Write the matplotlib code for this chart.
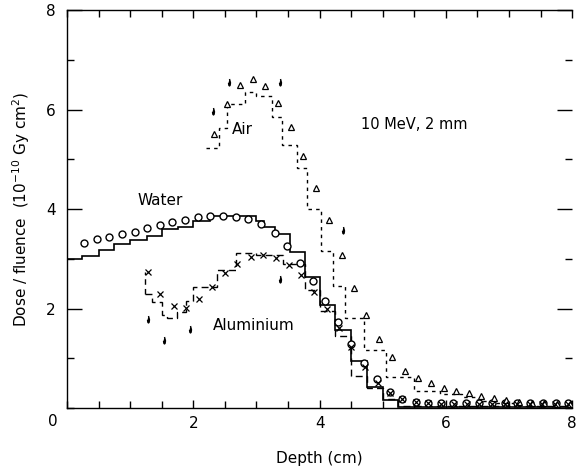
import numpy as np
import matplotlib
matplotlib.use('Agg')
import matplotlib.pyplot as plt
from matplotlib.ticker import MultipleLocator

# Water: open circles + solid histogram
water_x = [0.27, 0.47, 0.67, 0.87, 1.07, 1.27, 1.47, 1.67, 1.87, 2.07, 2.27, 2.47, 2.67,
           2.87, 3.08, 3.29, 3.49, 3.69, 3.89, 4.09, 4.29, 4.50, 4.71, 4.91, 5.11, 5.31,
           5.52, 5.72, 5.93, 6.12, 6.32, 6.53, 6.73, 6.93, 7.13, 7.34, 7.54, 7.74, 7.93]
water_y = [3.31, 3.39, 3.44, 3.50, 3.54, 3.62, 3.68, 3.73, 3.78, 3.83, 3.86, 3.86, 3.83,
           3.80, 3.70, 3.51, 3.26, 2.92, 2.56, 2.15, 1.73, 1.29, 0.90, 0.58, 0.33, 0.19,
           0.13, 0.11, 0.10, 0.10, 0.10, 0.10, 0.10, 0.10, 0.10, 0.10, 0.10, 0.10, 0.10]
water_edges = [0, 0.23, 0.50, 0.74, 1.00, 1.27, 1.50, 1.76, 2.00, 2.27, 3.00, 3.12, 3.30,
               3.53, 3.77, 4.00, 4.25, 4.50, 4.75, 5.00, 5.25, 8.0]
water_hist = [2.99, 3.06, 3.18, 3.29, 3.38, 3.46, 3.59, 3.64, 3.76, 3.85, 3.75, 3.64,
              3.49, 3.13, 2.63, 2.07, 1.57, 0.95, 0.43, 0.16, 0.03]

# Air: triangles + dotted histogram
air_x = [2.33, 2.54, 2.74, 2.94, 3.14, 3.34, 3.54, 3.74, 3.94, 4.15, 4.35, 4.55, 4.74,
         4.94, 5.15, 5.35, 5.56, 5.76, 5.97, 6.16, 6.36, 6.56, 6.76, 6.96, 7.16, 7.36,
         7.56, 7.76, 7.96]
air_y = [5.50, 6.11, 6.49, 6.61, 6.47, 6.13, 5.65, 5.06, 4.42, 3.78, 3.07, 2.41, 1.87,
         1.39, 1.02, 0.75, 0.60, 0.50, 0.40, 0.34, 0.30, 0.24, 0.21, 0.16, 0.13, 0.11,
         0.10, 0.09, 0.08]
air_edges = [2.20, 2.40, 2.53, 2.82, 3.00, 3.24, 3.40, 3.64, 3.80, 4.03, 4.21, 4.40,
             4.70, 5.05, 5.50, 5.90, 6.25, 6.50, 6.80, 7.10]
air_hist = [5.23, 5.63, 6.12, 6.36, 6.28, 5.85, 5.29, 4.82, 4.01, 3.16, 2.45, 1.80,
            1.17, 0.62, 0.35, 0.28, 0.23, 0.15, 0.10]
air_tick_x = [2.31, 2.57, 3.37, 4.37]
air_tick_y = [5.96, 6.56, 6.55, 3.58]

# Aluminium: crosses + dashed histogram
al_x = [1.28, 1.48, 1.69, 1.89, 2.09, 2.30, 2.50, 2.70, 2.91, 3.11, 3.31, 3.52, 3.71,
        3.91, 4.11, 4.31, 4.50, 4.72, 4.92, 5.11, 5.31, 5.52, 5.72, 5.93, 6.13, 6.33,
        6.53, 6.73, 6.93, 7.13, 7.33, 7.53, 7.73, 7.93]
al_y = [2.74, 2.29, 2.05, 2.02, 2.20, 2.44, 2.71, 2.90, 3.03, 3.08, 3.01, 2.87, 2.67,
        2.34, 2.00, 1.60, 1.23, 0.83, 0.50, 0.31, 0.18, 0.13, 0.10, 0.09, 0.09, 0.09,
        0.09, 0.09, 0.09, 0.09, 0.09, 0.09, 0.09, 0.09]
al_edges = [1.23, 1.34, 1.50, 1.58, 1.74, 1.89, 2.00, 2.37, 2.68, 3.00, 3.42, 3.77,
            4.00, 4.25, 4.50, 4.75, 5.00, 5.25, 8.0]
al_hist = [2.30, 2.14, 1.87, 1.80, 1.92, 2.16, 2.44, 2.77, 3.11, 3.08, 2.89, 2.37,
           1.95, 1.45, 0.64, 0.40, 0.18, 0.05]
al_tick_x = [1.29, 1.53, 1.95, 3.37]
al_tick_y = [1.78, 1.37, 1.58, 2.59]

plt.rcParams['font.family'] = 'DejaVu Sans'
fig = plt.figure(figsize=(5.76, 4.70), dpi=100, facecolor='white')
ax = fig.add_axes([0.1163, 0.1319, 0.877, 0.8468])

# histograms
ax.stairs(water_hist, water_edges, baseline=None, color='black', lw=1.2)
ax.stairs(air_hist, air_edges, baseline=None, color='black', lw=1.0, ls=(0, (2.5, 3)))
ax.stairs(al_hist, al_edges, baseline=None, color='black', lw=1.0, ls=(0, (5, 3)))
ax.vlines(al_edges[0], al_hist[0], al_y[0], color='black', lw=1.0, ls=(0, (4, 3)))

# measured points
drop = [(0, 1), (0.28, -0.1), (0.18, -0.8), (0, -1), (-0.18, -0.8), (-0.28, -0.1)]
ax.plot(water_x, water_y, 'o', ms=5, mfc='white', mec='black', mew=1.0, ls='none')
ax.plot(air_x, air_y, '^', ms=4, mfc='white', mec='black', mew=0.9, ls='none')
ax.plot(al_x, al_y, 'x', ms=4.5, color='black', mew=0.9, ls='none')
ax.plot(air_tick_x, air_tick_y, marker=drop, ms=5, color='black', ls='none')
ax.plot(al_tick_x, al_tick_y, marker=drop, ms=5, color='black', ls='none')

# labels on curves
ax.text(2.78, 5.59, 'Air', ha='center', va='center', fontsize=11)
ax.text(1.47, 4.18, 'Water', ha='center', va='center', fontsize=11)
ax.text(2.96, 1.65, 'Aluminium', ha='center', va='center', fontsize=11)
ax.text(5.5, 5.69, '10 MeV, 2 mm', ha='center', va='center', fontsize=10.5)

ax.set_xlim(0, 8)
ax.set_ylim(0, 8)
ax.set_xticks([2, 4, 6, 8])
ax.set_yticks([2, 4, 6, 8])
ax.xaxis.set_minor_locator(MultipleLocator(0.5))
ax.yaxis.set_minor_locator(MultipleLocator(1))
ax.tick_params(axis='both', which='both', direction='in', top=True, right=True,
               labelsize=11, width=1.0, pad=6)
ax.tick_params(axis='y', which='major', length=11, pad=8)
ax.tick_params(axis='y', which='minor', length=5)
ax.tick_params(axis='x', which='major', length=6)
ax.tick_params(axis='x', which='minor', length=5)
ax.spines['right'].set_visible(False)
for s in ['left', 'top', 'bottom']:
    ax.spines[s].set_linewidth(1.0)

# shared corner zero
ax.text(-0.23, -0.28, '0', ha='center', va='center', fontsize=11)

ax.set_xlabel('Depth (cm)', fontsize=11, labelpad=14)
ax.set_ylabel(r'Dose / fluence  (10$^{-10}$ Gy cm$^2$)', fontsize=11, labelpad=10)

fig.savefig('out.png', dpi=100, facecolor='white')
